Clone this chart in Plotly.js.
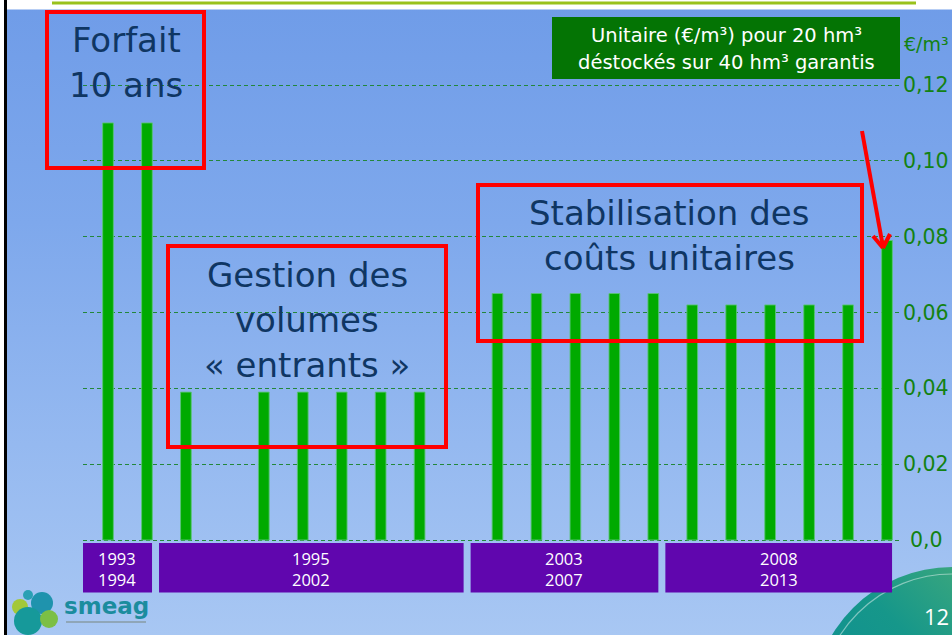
<!DOCTYPE html>
<html><head><meta charset="utf-8">
<script src="https://cdn.plot.ly/plotly-3.0.1.min.js"></script>
<style>
html,body{margin:0;padding:0;overflow:hidden;background:#fff;}
#chart{width:952px;height:635px;background:linear-gradient(to bottom,#6f9ce8 0%,#7ea8ec 35%,#95b9f0 70%,#a8c7f3 100%);}
</style></head>
<body><div id="chart"></div>
<script>
// ---- data ----
const years = [1993,1994,1995,1996,1997,1998,1999,2000,2001,2002,2003,2004,2005,2006,2007,2008,2009,2010,2011,2012,2013];
const unitCost = [0.11,0.11,0.039,null,0.039,0.039,0.039,0.039,0.039,null,0.065,0.065,0.065,0.065,0.065,0.062,0.062,0.062,0.062,0.062,0.079];
const tickValues = [0,0.02,0.04,0.06,0.08,0.10,0.12];
const tickLabels = ['0,0','0,02','0,04','0,06','0,08','0,10','0,12'];
const periodStart = [1993,1995,2003,2008];
const periodEnd = [1994,2002,2007,2013];
const unitLabel = '€/m³';
const legendLines = ['Unitaire (€/m³) pour 20 hm³','déstockés sur 40 hm³ garantis'];
const phaseForfait = ['Forfait','10 ans'];
const phaseGestion = ['Gestion des','volumes','« entrants »'];
const phaseStab = ['Stabilisation des','coûts unitaires'];
const pageNumber = '12';
const logoText = 'smeag';

// ---- helpers (pixel -> paper) ----
const W = 952, H = 635;
const px = x => x / W;
const py = y => 1 - y / H;

const shapes = [];
const annotations = [];
const FONT = 'DejaVu Sans';

// top white strip + green rule, left border
shapes.push({type:'rect',xref:'paper',yref:'paper',x0:0,x1:1,y0:py(9.5),y1:1,fillcolor:'#ffffff',line:{width:0},layer:'below'});
shapes.push({type:'line',xref:'paper',yref:'paper',x0:px(52),x1:px(916),y0:py(3),y1:py(3),line:{color:'#99c21c',width:3},layer:'below'});
shapes.push({type:'rect',xref:'paper',yref:'paper',x0:0,x1:px(4),y0:0,y1:1,fillcolor:'#ffffff',line:{width:0}});
shapes.push({type:'rect',xref:'paper',yref:'paper',x0:px(4),x1:px(7),y0:0,y1:1,fillcolor:'#000000',line:{width:0}});

// period boxes (purple)
for (let i = 0; i < periodStart.length; i++) {
  const x0 = periodStart[i] - 0.69, x1 = periodEnd[i] + 0.13;
  shapes.push({type:'rect',xref:'x',yref:'paper',x0:x0,x1:x1,y0:py(592.5),y1:py(543),fillcolor:'#6006ae',line:{width:0}});
  annotations.push({xref:'x',yref:'paper',x:(x0+x1)/2,y:py(569),text:periodStart[i]+'<br>'+periodEnd[i],showarrow:false,
    font:{family:'Open Sans',size:16.5,color:'#ffffff'},xanchor:'center',yanchor:'middle'});
}

// red boxes
const red = {color:'#ff0000',width:4};
shapes.push({type:'rect',xref:'paper',yref:'paper',x0:px(47),x1:px(204),y0:py(168),y1:py(12),line:red});
shapes.push({type:'rect',xref:'paper',yref:'paper',x0:px(168),x1:px(446),y0:py(447),y1:py(246),line:red});
shapes.push({type:'rect',xref:'paper',yref:'paper',x0:px(478),x1:px(862),y0:py(341),y1:py(185),line:red});

// red arrow
shapes.push({type:'line',xref:'paper',yref:'paper',x0:px(862),y0:py(131),x1:px(883),y1:py(247),line:red});
shapes.push({type:'line',xref:'paper',yref:'paper',x0:px(883),y0:py(248),x1:px(873),y1:py(236),line:red});
shapes.push({type:'line',xref:'paper',yref:'paper',x0:px(883),y0:py(248),x1:px(890),y1:py(234),line:red});

// green legend box
shapes.push({type:'rect',xref:'paper',yref:'paper',x0:px(552),x1:px(900),y0:py(79),y1:py(17),fillcolor:'#047404',line:{width:0}});
annotations.push({xref:'paper',yref:'paper',x:px(726),y:py(36),text:legendLines[0],showarrow:false,font:{family:FONT,size:19.5,color:'#ffffff'},xanchor:'center',yanchor:'middle'});
annotations.push({xref:'paper',yref:'paper',x:px(726),y:py(62),text:legendLines[1],showarrow:false,font:{family:FONT,size:19.5,color:'#ffffff'},xanchor:'center',yanchor:'middle'});

// unit label
annotations.push({xref:'paper',yref:'paper',x:px(951),y:py(44),text:unitLabel,showarrow:false,font:{family:FONT,size:19,color:'#138213'},xanchor:'right',yanchor:'middle'});

// y tick labels (right)
for (let i = 0; i < tickValues.length; i++) {
  annotations.push({xref:'paper',yref:'y',x:px(926),y:tickValues[i],text:tickLabels[i],showarrow:false,
    font:{family:FONT,size:20.5,color:'#138213'},xanchor:'center',yanchor:'middle'});
}

// phase texts
const navy = '#0f3663';
function lines(arr, cx, ys, size) {
  arr.forEach((t, k) => annotations.push({xref:'paper',yref:'paper',x:px(cx),y:py(ys[k]),text:t,showarrow:false,
    font:{family:FONT,size:size,color:navy},xanchor:'center',yanchor:'middle'}));
}
lines(phaseForfait, 126, [40,85], 34);
lines(phaseGestion, 307, [275,320,365], 34);
lines(phaseStab, 669, [213,258], 34);

// page number
annotations.push({xref:'paper',yref:'paper',x:px(936),y:py(616),text:pageNumber,showarrow:false,font:{family:'Open Sans',size:22,color:'#ffffff'},xanchor:'center',yanchor:'middle'});

// logo
const blobs = [[20,607,8,'#a3c83a'],[28,595,5,'#2aa0b4'],[42,603,11,'#1f93ad'],[28,621,14,'#16999a'],[49,619,9,'#7cbf45']];
blobs.forEach(b => shapes.push({type:'circle',xref:'paper',yref:'paper',x0:px(b[0]-b[2]),x1:px(b[0]+b[2]),y0:py(b[1]+b[2]),y1:py(b[1]-b[2]),fillcolor:b[3],line:{width:0}}));
annotations.push({xref:'paper',yref:'paper',x:px(106),y:py(606),text:'<b>'+logoText+'</b>',showarrow:false,font:{family:FONT,size:23,color:'#1b8c9e'},xanchor:'center',yanchor:'middle'});
shapes.push({type:'line',xref:'paper',yref:'paper',x0:px(66),x1:px(146),y0:py(622),y1:py(622),line:{color:'#8fa6b8',width:2}});

// corner disc
const svg = "<svg xmlns='http://www.w3.org/2000/svg' width='280' height='280'><defs><linearGradient id='g' x1='0' y1='1' x2='1' y2='0'><stop offset='0' stop-color='#06869c'/><stop offset='0.55' stop-color='#16978a'/><stop offset='1' stop-color='#62b770'/></linearGradient></defs><circle cx='140' cy='140' r='140' fill='url(#g)'/><circle cx='140' cy='140' r='133' fill='none' stroke='#ffffff' stroke-opacity='0.45' stroke-width='1.2' stroke-dasharray='30 12 60 200 500'/></svg>";
const images = [{source:'data:image/svg+xml;charset=utf-8,'+encodeURIComponent(svg),xref:'paper',yref:'paper',
  x:px(812),y:py(567),sizex:280/W,sizey:280/H,xanchor:'left',yanchor:'top',sizing:'stretch',layer:'below'}];

const trace = {type:'bar',x:years,y:unitCost,width:0.275,
  marker:{color:'#00aa00',line:{color:'rgba(90,195,120,0.9)',width:1}},hoverinfo:'skip'};

const layout = {
  width:W,height:H,margin:{l:0,r:0,t:0,b:0,pad:0},
  paper_bgcolor:'rgba(0,0,0,0)',plot_bgcolor:'rgba(0,0,0,0)',
  showlegend:false,
  xaxis:{domain:[px(83),px(900)],range:[1993-0.642,2013+0.334],showgrid:false,zeroline:false,showticklabels:false,ticks:'',showline:false,fixedrange:true},
  yaxis:{domain:[py(545),py(70)],range:[-0.001319,0.123956],tickvals:tickValues,showticklabels:false,ticks:'',
    showgrid:true,gridcolor:'#23873a',gridwidth:1,griddash:'4px,3px',zeroline:false,showline:false,fixedrange:true},
  shapes:shapes,annotations:annotations,images:images
};
Plotly.newPlot('chart',[trace],layout,{staticPlot:true,displayModeBar:false});
</script></body></html>
